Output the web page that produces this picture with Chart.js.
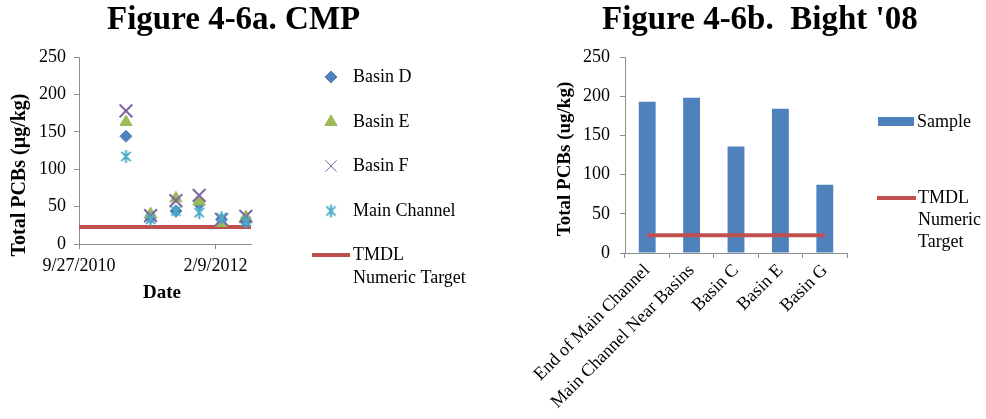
<!DOCTYPE html>
<html><head><meta charset="utf-8">
<script src="https://cdn.jsdelivr.net/npm/chart.js@4.4.1/dist/chart.umd.min.js"></script>
<style>
html,body{margin:0;padding:0;background:#fff;width:986px;height:419px;overflow:hidden}
#wrapA{position:absolute;left:0;top:0;width:500px;height:419px}
#wrapB{position:absolute;left:500px;top:0;width:486px;height:419px}
canvas{display:block}
</style></head><body>
<div id="wrapA"><canvas id="cmp" width="500" height="419"></canvas></div>
<div id="wrapB"><canvas id="bight" width="486" height="419"></canvas></div>
<script>
// ---------- data ----------
const cmpDates = ['2011-03-18','2011-06-16','2011-09-17','2011-12-11','2012-03-02','2012-05-30'];
const basinD = [144, 35, 44, 53, 33, 30];
const basinE = [163, 40, 61, 57, 28, 36];
const basinF = [178, 38, 58, 65, 33, 37];
const mainChannel = [117, 33, 44, 42, 35, 30];
const cmpTickDates = ['2010-09-27', '2012-02-09'];
const cmpAxisRange = ['2010-09-27', '2012-06-18'];
const cmpTmdl = [22.7, 22.7];
const bightSites = ['End of Main Channel', 'Main Channel Near Basins', 'Basin C', 'Basin E', 'Basin G'];
const bightSample = [193, 198, 136, 184, 87];
const bightTmdl = [22.7, 22.7, 22.7, 22.7, 22.7];
const yTickStep = 50;
const yRange = [0, 250];

// ---------- helpers ----------
const serif = "'Liberation Serif', 'Times New Roman', serif";
const axisGray = '#8e8e8e';
const C = {blue:'#4F81BD', red:'#C0504D', green:'#9BBB59', purple:'#8064A2', cyan:'#4BACC6'};
const toDay = s => Date.UTC(+s.slice(0,4), +s.slice(5,7)-1, +s.slice(8,10)) / 86400000;
const fmtDate = v => { const d = new Date(v*86400000); return (d.getUTCMonth()+1)+'/'+d.getUTCDate()+'/'+d.getUTCFullYear(); };
const pts = vals => vals.map((v,i) => ({x: toDay(cmpDates[i]), y: v}));

function makeStar(color, size, lw) {
  const c = document.createElement('canvas'); c.width = c.height = size;
  const g = c.getContext('2d'); g.strokeStyle = color; g.lineWidth = lw;
  const m = size/2, r = size/2 - 1, d = r*Math.SQRT1_2;
  g.beginPath();
  g.moveTo(m, m-r); g.lineTo(m, m+r);
  g.moveTo(m-d, m-d); g.lineTo(m+d, m+d);
  g.moveTo(m-d, m+d); g.lineTo(m+d, m-d);
  g.stroke();
  return c;
}
const starImg = makeStar(C.cyan, 15, 2);

function txt(ctx, s, x, y, o = {}) {
  ctx.save(); ctx.translate(x, y); ctx.rotate(o.rot || 0);
  ctx.font = (o.bold ? 'bold ' : '') + (o.size || 18) + 'px ' + serif;
  ctx.fillStyle = '#000'; ctx.textAlign = o.align || 'left'; ctx.textBaseline = o.baseline || 'middle';
  ctx.fillText(s, 0, 0); ctx.restore();
}

function axisCommon(extra) {
  return Object.assign({
    grid: {drawOnChartArea: false, drawTicks: true, tickLength: 5, color: axisGray, lineWidth: 1},
    border: {color: axisGray, width: 1}
  }, extra);
}

// ---------- Figure 4-6a ----------
const legendA = {
  id: 'legendA',
  afterDraw(chart) {
    const ctx = chart.ctx;
    txt(ctx, 'Figure 4-6a. CMP', 107, 29, {size: 33, bold: true, baseline: 'alphabetic'});
    txt(ctx, 'Total PCBs (\u00b5g/kg)', 20, 175, {size: 20, bold: true, align: 'center', rot: -Math.PI/2});
    txt(ctx, 'Date', 162, 293, {size: 19, bold: true, align: 'center'});
    const rows = [77, 122, 166, 211, 255];
    const lines = [['Basin D'], ['Basin E'], ['Basin F'], ['Main Channel'], ['TMDL', 'Numeric Target']];
    chart.data.datasets.forEach((ds, i) => {
      const y = rows[i];
      ctx.save();
      if (ds.showLine) {
        ctx.strokeStyle = ds.borderColor; ctx.lineWidth = 4;
        ctx.beginPath(); ctx.moveTo(312, y); ctx.lineTo(350, y); ctx.stroke();
      } else {
        ctx.fillStyle = ds.backgroundColor; ctx.strokeStyle = ds.borderColor;
        Chart.helpers.drawPoint(ctx, {pointStyle: ds.pointStyle, radius: ds.legendRadius, rotation: 0, borderWidth: ds.legendBorder}, 331, y);
      }
      ctx.restore();
      lines[i].forEach((t, k) => txt(ctx, t, 353, y + k*23));
    });
  }
};

new Chart(document.getElementById('cmp'), {
  type: 'scatter',
  data: { datasets: [
    {label: 'Basin D', data: pts(basinD), pointStyle: 'rectRot', pointRadius: 6, backgroundColor: C.blue, borderColor: C.blue, borderWidth: 1, order: 3, clip: false, legendRadius: 6, legendBorder: 1},
    {label: 'Basin E', data: pts(basinE), pointStyle: 'triangle', pointRadius: 7, backgroundColor: C.green, borderColor: C.green, borderWidth: 1, order: 2, clip: false, legendRadius: 7, legendBorder: 1},
    {label: 'Basin F', data: pts(basinF), pointStyle: 'crossRot', pointRadius: 9, backgroundColor: C.purple, borderColor: C.purple, borderWidth: 2, order: 1, clip: false, legendRadius: 8, legendBorder: 1.2},
    {label: 'Main Channel', data: pts(mainChannel), pointStyle: starImg, pointRadius: 7, backgroundColor: C.cyan, borderColor: C.cyan, order: 0, clip: false, legendRadius: 7, legendBorder: 0},
    {label: 'TMDL Numeric Target', data: cmpAxisRange.map((d, i) => ({x: toDay(d), y: cmpTmdl[i]})), showLine: true, pointRadius: 0, borderColor: C.red, backgroundColor: C.red, borderWidth: 4, order: 5}
  ]},
  options: {
    responsive: false, animation: false, events: [],
    layout: {padding: {top: 57, right: 249, bottom: 0, left: 0}},
    plugins: {legend: {display: false}, tooltip: {enabled: false}},
    scales: {
      x: axisCommon({
        type: 'linear', min: toDay(cmpAxisRange[0]), max: toDay(cmpAxisRange[1]),
        afterFit: s => { s.height = 419 - 244; },
        afterBuildTicks: s => { s.ticks = cmpTickDates.map(d => ({value: toDay(d)})); },
        ticks: {font: {family: serif, size: 18}, color: '#000', padding: 6, maxRotation: 0, autoSkip: false, callback: v => fmtDate(v)}
      }),
      y: axisCommon({
        min: yRange[0], max: yRange[1],
        afterFit: s => { s.width = 79; },
        ticks: {stepSize: yTickStep, font: {family: serif, size: 18}, color: '#000', padding: 8}
      })
    }
  },
  plugins: [legendA]
});

// ---------- Figure 4-6b ----------
const legendB = {
  id: 'legendB',
  afterDraw(chart) {
    const ctx = chart.ctx;
    txt(ctx, "Figure 4-6b.  Bight '08", 102, 29, {size: 33, bold: true, baseline: 'alphabetic'});
    txt(ctx, 'Total PCBs (ug/kg)', 65, 159, {size: 19, bold: true, align: 'center', rot: -Math.PI/2});
    const ds = chart.data.datasets;
    ctx.save();
    ctx.fillStyle = ds[0].backgroundColor; ctx.fillRect(378, 117, 36, 9);
    ctx.strokeStyle = ds[1].borderColor; ctx.lineWidth = 4;
    ctx.beginPath(); ctx.moveTo(377, 198); ctx.lineTo(416, 198); ctx.stroke();
    ctx.restore();
    txt(ctx, 'Sample', 417, 122);
    ['TMDL', 'Numeric', 'Target'].forEach((t, k) => txt(ctx, t, 418, 198 + k*22));
  }
};

new Chart(document.getElementById('bight'), {
  data: {
    labels: bightSites,
    datasets: [
      {type: 'bar', label: 'Sample', data: bightSample, backgroundColor: C.blue, barPercentage: 0.38, categoryPercentage: 1, order: 2},
      {type: 'line', label: 'TMDL Numeric Target', data: bightTmdl, borderColor: C.red, backgroundColor: C.red, borderWidth: 4, pointRadius: 0, order: 1}
    ]
  },
  options: {
    responsive: false, animation: false, events: [],
    layout: {padding: {top: 57, right: 139, bottom: 0, left: 0}},
    plugins: {legend: {display: false}, tooltip: {enabled: false}},
    scales: {
      x: axisCommon({
        type: 'category',
        afterFit: s => { s.height = 419 - 253; },
        ticks: {font: {family: serif, size: 18}, color: '#000', padding: 2, minRotation: 45, maxRotation: 45, autoSkip: false}
      }),
      y: axisCommon({
        min: yRange[0], max: yRange[1],
        afterFit: s => { s.width = 125; },
        ticks: {stepSize: yTickStep, font: {family: serif, size: 18}, color: '#000', padding: 10}
      })
    }
  },
  plugins: [legendB]
});
</script>
</body></html>
